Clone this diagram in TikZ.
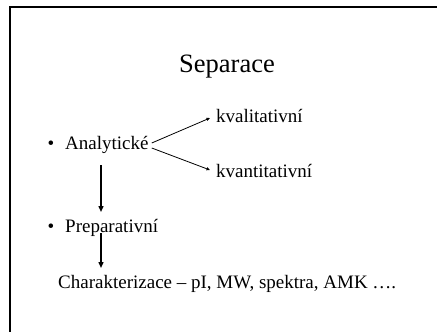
\documentclass[tikz,border=0pt]{standalone}
\usepackage{fontspec}
\setmainfont{Liberation Serif}
\usetikzlibrary{calc,arrows.meta}
\begin{document}
\begin{tikzpicture}[x=1pt,y=1pt,
  txt/.style={inner sep=0pt, font=\fontsize{19}{23}\selectfont},
  ttl/.style={inner sep=0pt, font=\fontsize{26.5}{30}\selectfont},
  vline/.style={line width=1.4pt, -{Triangle[length=6pt,width=5pt]}},
  dline/.style={line width=0.8pt, -{Triangle[length=3.5pt,width=3pt]}}]
\useasboundingbox (0,0) rectangle (437,-332);
% slide frame (only top and left edges visible)
\draw[line width=2pt] (10,-332) -- (10,-7) -- (437,-7);
% title
\node[ttl, anchor=base] (title) at (227,-72) {Separace};
% items
\node[txt, anchor=base] (b1) at (51,-149) {\textbullet};
\node[txt, anchor=base west] (analyt) at (65,-149) {Analytické};
\node[txt, anchor=base west] (kval) at (216,-122) {kvalitativní};
\node[txt, anchor=base west] (kvant) at (216,-177) {kvantitativní};
\node[txt, anchor=base] (b2) at (51,-232) {\textbullet};
\node[txt, anchor=base west] (prep) at (65,-232) {Preparativní};
\node[txt, anchor=base west] (char) at (58,-288) {Charakterizace – pI, MW, spektra, AMK \dots.};
% connectors
\draw[dline] ($(analyt.base east)+(3,6)$) -- ($(kval.base west)+(-6,4)$);
\draw[dline] ($(analyt.base east)+(3,1)$) -- ($(kvant.base west)+(-6,7)$);
\draw[vline] ($(analyt.base west)+(36,-16)$) -- ($(prep.base west)+(36,20)$);
\draw[vline] ($(prep.base west)+(36,-1)$) -- ($(char.base west)+(43,20)$);
\end{tikzpicture}
\end{document}
